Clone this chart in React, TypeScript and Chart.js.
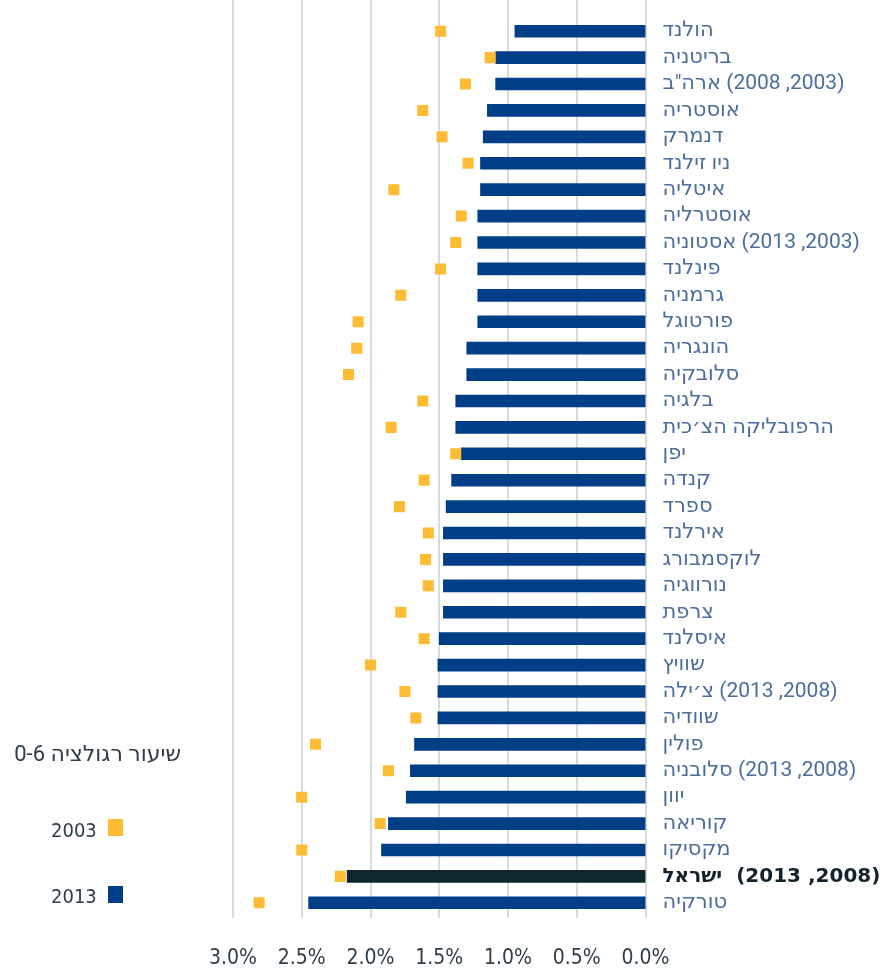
import React, { useEffect, useRef } from "react";
import { Chart, registerables } from "chart.js";

Chart.register(...registerables);

const countries = [
  "הולנד",
  "בריטניה",
  "(2003, 2008) ארה\"ב",
  "אוסטריה",
  "דנמרק",
  "ניו זילנד",
  "איטליה",
  "אוסטרליה",
  "(2003, 2013) אסטוניה",
  "פינלנד",
  "גרמניה",
  "פורטוגל",
  "הונגריה",
  "סלובקיה",
  "בלגיה",
  "הרפובליקה הצ׳כית",
  "יפן",
  "קנדה",
  "ספרד",
  "אירלנד",
  "לוקסמבורג",
  "נורווגיה",
  "צרפת",
  "איסלנד",
  "שוויץ",
  "(2008, 2013) צ׳ילה",
  "שוודיה",
  "פולין",
  "(2008, 2013) סלובניה",
  "יוון",
  "קוריאה",
  "מקסיקו",
  "(2008, 2013)  ישראל",
  "טורקיה",
];

const values2013 = [
  0.95, 1.09, 1.09, 1.15, 1.18, 1.2, 1.2, 1.22, 1.22, 1.22, 1.22, 1.22, 1.3, 1.3,
  1.38, 1.38, 1.34, 1.41, 1.45, 1.47, 1.47, 1.47, 1.47, 1.5, 1.51, 1.51, 1.51,
  1.68, 1.71, 1.74, 1.87, 1.92, 2.17, 2.45,
];

const values2003 = [
  1.49, 1.13, 1.31, 1.62, 1.48, 1.29, 1.83, 1.34, 1.38, 1.49, 1.78, 2.09, 2.1,
  2.16, 1.62, 1.85, 1.38, 1.61, 1.79, 1.58, 1.6, 1.58, 1.78, 1.61, 2.0, 1.75,
  1.67, 2.4, 1.87, 2.5, 1.93, 2.5, 2.22, 2.81,
];

const highlightIndex = 32;
const legendTitle = "שיעור רגולציה 0-6";
const seriesNames = ["2003", "2013"];

const BLUE = "#003F87";
const YELLOW = "#FDBC33";
const DARK = "#10262F";
const LABEL_BLUE = "#4B6E9C";
const TEXT_DARK = "#2D3E4A";
const FONT = "'DejaVu Sans Condensed', 'DejaVu Sans', sans-serif";
const LABEL_FONT = "Roboto, 'DejaVu Sans', sans-serif";
const BOLD_FONT = "'DejaVu Sans', sans-serif";

const gridPlugin = {
  id: "fullGrid",
  beforeDatasetsDraw(chart: any) {
    const { ctx, chartArea, scales } = chart;
    const xs = scales.x;
    ctx.save();
    ctx.strokeStyle = "#D8DBDE";
    ctx.lineWidth = 2;
    xs.ticks.forEach((t: any) => {
      const x = Math.round(xs.getPixelForValue(t.value));
      ctx.beginPath();
      ctx.moveTo(x, 0);
      ctx.lineTo(x, chartArea.bottom + 2);
      ctx.stroke();
    });
    ctx.restore();
  },
};

export default function App() {
  const ref = useRef<HTMLCanvasElement | null>(null);

  useEffect(() => {
    if (!ref.current) return;
    const chart = new Chart(ref.current, {
      type: "bar",
      data: {
        labels: countries,
        datasets: [
          {
            type: "line",
            label: seriesNames[0],
            data: values2003,
            indexAxis: "y",
            showLine: false,
            pointStyle: "rect",
            pointRadius: 7.8,
            pointHoverRadius: 7.8,
            pointBackgroundColor: YELLOW,
            pointBorderWidth: 0,
            borderColor: YELLOW,
            backgroundColor: YELLOW,
            order: 0,
          } as any,
          {
            type: "bar",
            label: seriesNames[1],
            data: values2013,
            backgroundColor: values2013.map((_, i) => (i === highlightIndex ? DARK : BLUE)),
            barThickness: 12,
            order: 1,
          },
        ],
      },
      options: {
        indexAxis: "y",
        animation: false,
        responsive: true,
        maintainAspectRatio: false,
        layout: { padding: { left: 233, right: 0, top: 18, bottom: 0 } },
        plugins: {
          legend: { display: false },
          tooltip: { enabled: false },
        },
        scales: {
          x: {
            type: "linear",
            reverse: true,
            min: 0,
            max: 3,
            position: "bottom",
            grid: { display: false, drawTicks: false },
            border: { display: false },
            ticks: {
              stepSize: 0.5,
              padding: 30,
              color: TEXT_DARK,
              font: { family: FONT, size: 21 },
              callback: (v: any) => Number(v).toFixed(1) + "%",
            },
            afterFit: (s: any) => {
              s.height = 56;
              s.paddingTop = 0;
              s.paddingBottom = 0;
            },
          },
          y: {
            type: "category",
            position: "right",
            grid: { display: false, drawTicks: false },
            border: { display: false },
            ticks: {
              autoSkip: false,
              padding: 17,
              color: (c: any) => (c.index === highlightIndex ? "#14222B" : LABEL_BLUE),
              font: (c: any) =>
                c.index === highlightIndex
                  ? { family: BOLD_FONT, size: 20, weight: "bold" }
                  : { family: LABEL_FONT, size: 21 },
            },
            afterFit: (s: any) => {
              s.width = 238.5;
              s.paddingTop = 0;
              s.paddingBottom = 0;
            },
          },
        },
      },
      plugins: [gridPlugin],
    });
    return () => chart.destroy();
  }, []);

  const textStyle: React.CSSProperties = {
    position: "absolute",
    fontFamily: FONT,
    fontSize: 20,
    color: TEXT_DARK,
    lineHeight: "24px",
    whiteSpace: "nowrap",
  };

  return (
    <div style={{ position: "absolute", left: 0, top: 0, width: 884, height: 972, background: "#fff" }}>
      <canvas ref={ref} dir="rtl" />
      <div
        dir="rtl"
        style={{ ...textStyle, fontFamily: LABEL_FONT, fontSize: 22, left: 0, width: 181, top: 742, textAlign: "right" }}
      >
        {legendTitle}
      </div>
      <div style={{ ...textStyle, left: 51, top: 818 }}>{seriesNames[0]}</div>
      <div style={{ position: "absolute", left: 108, top: 819, width: 15, height: 17, background: YELLOW }} />
      <div style={{ ...textStyle, left: 51, top: 884 }}>{seriesNames[1]}</div>
      <div style={{ position: "absolute", left: 108, top: 886, width: 15, height: 17, background: BLUE }} />
    </div>
  );
}
